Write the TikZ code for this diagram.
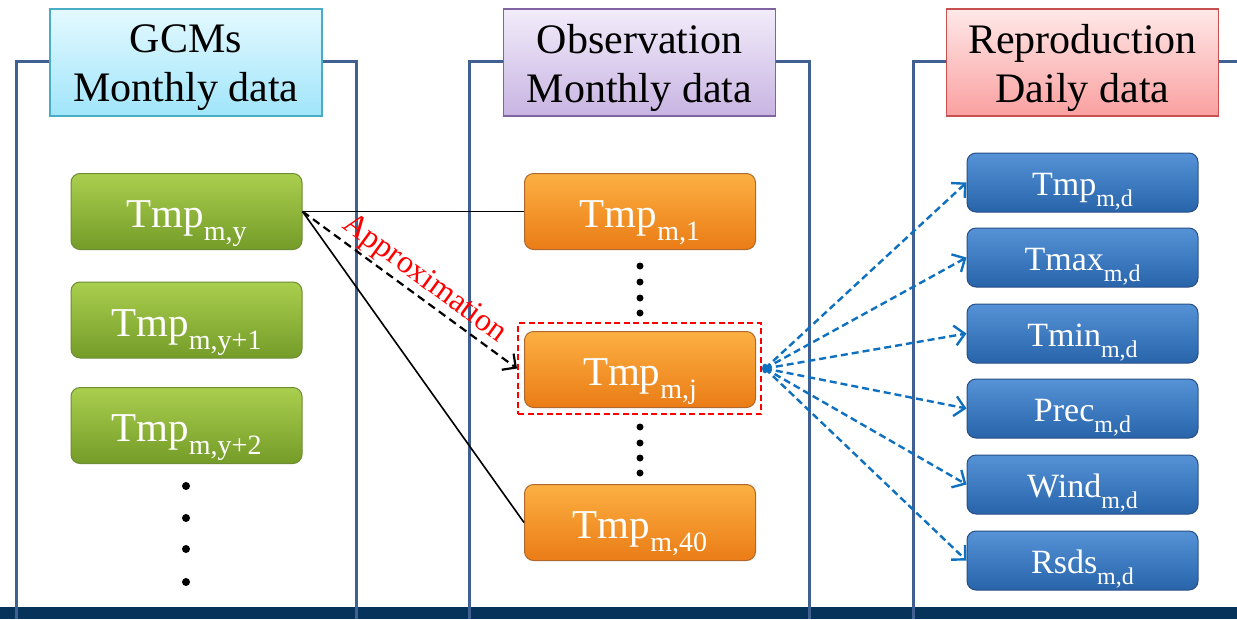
\documentclass[tikz,border=0pt]{standalone}
\usepackage{fontspec}
\setmainfont{Liberation Serif}
\usetikzlibrary{arrows.meta}

\definecolor{panelline}{RGB}{63,96,144}
\definecolor{barblue}{RGB}{6,51,89}
\definecolor{arrowblue}{RGB}{16,112,192}
\definecolor{gcmtop}{RGB}{228,249,255}
\definecolor{gcmbot}{RGB}{160,229,250}
\definecolor{gcmedge}{RGB}{75,172,198}
\definecolor{obstop}{RGB}{242,236,250}
\definecolor{obsbot}{RGB}{200,180,226}
\definecolor{obsedge}{RGB}{128,100,162}
\definecolor{reptop}{RGB}{255,232,232}
\definecolor{repbot}{RGB}{250,160,160}
\definecolor{repedge}{RGB}{200,80,80}
\definecolor{greentop}{RGB}{170,206,78}
\definecolor{greenbot}{RGB}{116,156,40}
\definecolor{greenedge}{RGB}{110,140,50}
\definecolor{orangetop}{RGB}{252,176,66}
\definecolor{orangebot}{RGB}{234,124,22}
\definecolor{orangeedge}{RGB}{176,104,46}
\definecolor{bluetop}{RGB}{86,146,214}
\definecolor{bluebot}{RGB}{40,100,170}
\definecolor{blueedge}{RGB}{40,78,136}

% subscripts set as lowered, smaller text
\newcommand{\subA}[1]{\raisebox{-13pt}{\fontsize{28}{28}\selectfont #1}}
\newcommand{\subB}[1]{\raisebox{-11pt}{\fontsize{24}{24}\selectfont #1}}

\tikzset{
  header/.style={draw, line width=1.5pt, minimum width=272pt, minimum height=107pt,
    inner sep=0pt, align=center, font=\fontsize{42}{49}\selectfont},
  varbox/.style={rounded corners=9pt, line width=1pt, minimum width=231pt,
    minimum height=76pt, inner sep=0pt, text=white, font=\fontsize{41}{41}\selectfont,
    text height=40pt, text depth=8pt},
  greenbox/.style={varbox, draw=greenedge, top color=greentop, bottom color=greenbot},
  orangebox/.style={varbox, draw=orangeedge, top color=orangetop, bottom color=orangebot},
  bluebox/.style={varbox, minimum height=59pt, draw=blueedge, top color=bluetop,
    bottom color=bluebot, font=\fontsize{34}{34}\selectfont,
    text height=32pt, text depth=7pt},
  panel/.style={draw=panelline, line width=3pt},
  vdot/.style={circle, fill=black, inner sep=0pt, minimum size=8pt},
  fanout/.style={draw=arrowblue, line width=2.4pt, dash pattern=on 7pt off 4pt,
    -{Straight Barb[length=10pt,width=20pt,line width=2.4pt]}},
}

\begin{document}
\begin{tikzpicture}[x=1pt, y=-1pt]
\useasboundingbox (0,0) rectangle (1237,619);

% footer bar
\fill[barblue] (0,607) rectangle (1237,619);

% panel frames
\draw[panel] (16,619) -- (16,61) -- (356,61) -- (356,619);
\draw[panel] (469,619) -- (469,61) -- (809,61) -- (809,619);
\draw[panel] (913,619) -- (913,61) -- (1237,61);

% column headers
\node[header, draw=gcmedge, top color=gcmtop, bottom color=gcmbot] (hgcm) at (186,62.5) {};
\node[header, draw=obsedge, top color=obstop, bottom color=obsbot] (hobs) at (639.5,62.5) {};
\node[header, draw=repedge, top color=reptop, bottom color=repbot] (hrep) at (1082.5,62.5) {};
\node[font=\fontsize{42}{49}\selectfont, align=center, inner sep=0pt, yshift=-5pt] (tgcm) at (hgcm) {GCMs\\Monthly data};
\node[font=\fontsize{42}{49}\selectfont, align=center, inner sep=0pt, yshift=-5pt] (tobs) at (hobs) {Observation\\Monthly data};
\node[font=\fontsize{42}{49}\selectfont, align=center, inner sep=0pt, yshift=-5pt] (trep) at (hrep) {Reproduction\\Daily data};

% GCM monthly values
\node[greenbox] (g1) at (186.5,211.5) {Tmp\subA{m,y}};
\node[greenbox] (g2) at (186.5,320) {Tmp\subA{m,y+1}};
\node[greenbox] (g3) at (186.5,425.5) {Tmp\subA{m,y+2}};
\foreach \i/\y in {1/486,2/518,3/549,4/582}
  \node[vdot] (gd\i) at (186,\y) {};

% observed monthly values
\node[orangebox] (o1) at (640,211.5) {Tmp\subA{m,1}};
\node[orangebox] (oj) at (640,369.5) {Tmp\subA{m,j}};
\node[orangebox] (o40) at (640,522.5) {Tmp\subA{m,40}};
\foreach \i/\y in {1/266,2/282,3/298,4/313}
  \node[vdot, minimum size=7pt] (od\i) at (640,\y) {};
\foreach \i/\y in {1/427,2/443,3/458,4/473}
  \node[vdot, minimum size=7pt] (oe\i) at (640,\y) {};

% selected year
\node[draw=red, line width=2pt, dash pattern=on 6pt off 3.5pt, minimum width=243pt,
  minimum height=91pt, inner sep=0pt] (sel) at (639.5,368.5) {};

% reproduced daily values
\node[bluebox] (r1) at (1082.5,182.5) {Tmp\subB{m,d}};
\node[bluebox] (r2) at (1082.5,257.5) {Tmax\subB{m,d}};
\node[bluebox] (r3) at (1082.5,333.5) {Tmin\subB{m,d}};
\node[bluebox] (r4) at (1082.5,408.5) {Prec\subB{m,d}};
\node[bluebox] (r5) at (1082.5,484.5) {Wind\subB{m,d}};
\node[bluebox] (r6) at (1082.5,560.5) {Rsds\subB{m,d}};

% comparison of the GCM value with the observed years
\draw[line width=1.6pt] (g1.east) -- (o1.west);
\draw[line width=1.6pt] (g1.east) -- (o40.west);
\draw[line width=2.2pt, dash pattern=on 8pt off 5pt,
  -{Straight Barb[length=10pt,width=20pt,line width=2.2pt]}]
  (g1.east) -- node[sloped, above, pos=0.52, inner sep=2pt, text=red,
  font=\fontsize{32}{32}\selectfont] (approx) {Approximation} (sel.west);

% fan-out to the daily variables
\coordinate (src) at (765,368.5);
\fill[arrowblue] (src) ellipse (3pt and 5pt);
\foreach \r in {r1,r2,r3,r4,r5,r6}
  \draw[fanout] (src) -- (\r.west);

\end{tikzpicture}
\end{document}
